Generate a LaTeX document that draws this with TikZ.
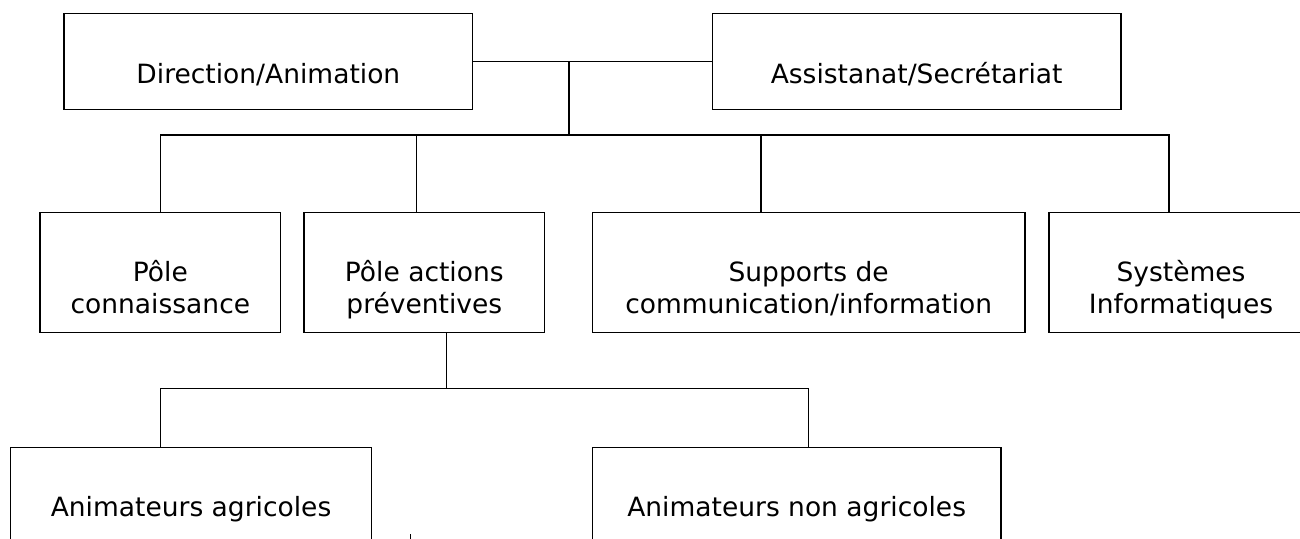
\documentclass[tikz,border=0pt]{standalone}
\usepackage{fontspec}
\setmainfont{DejaVu Sans}
\begin{document}
\begin{tikzpicture}[x=1pt,y=-1pt,
  box/.style={draw, line width=1.5pt, inner sep=0pt, minimum height=#1},
  box/.default=96pt,
  lab/.style={anchor=base, align=center, inner sep=0pt, font=\fontsize{26.5}{31.6}\selectfont},
  conn/.style={line width=1.5pt}]
\useasboundingbox (0,0) rectangle (1300,538);
% top level
\node[box, minimum width=408.7pt] (dir) at (268.35,61.3) {};
\node[box, minimum width=408.7pt] (ass) at (916.65,61.3) {};
% second level
\node[box=120.4pt, minimum width=240.7pt] (pc) at (160.35,272.5) {};
\node[box=120.4pt, minimum width=240.6pt] (pa) at (424.3,272.5) {};
\node[box=120.4pt, minimum width=432.7pt] (sup) at (808.65,272.5) {};
\node[box=120.4pt, minimum width=264pt] (sys) at (1181,272.5) {};
% third level
\node[box, minimum width=360.7pt] (aa) at (191.05,495.3) {};
\node[box, minimum width=408.5pt] (ana) at (796.65,495.3) {};
% labels
\node[lab] (dirT) at (268.35,83.3) {Direction/Animation};
\node[lab] (assT) at (916.65,83.3) {Assistanat/Secrétariat};
\node[lab] (pcT) at (160.35,313.3) {Pôle\\connaissance};
\node[lab] (paT) at (424.3,313.3) {Pôle actions\\préventives};
\node[lab] (supT) at (808.65,313.3) {Supports de\\communication/information};
\node[lab] (sysT) at (1181,313.3) {Systèmes\\Informatiques};
\node[lab] (aaT) at (191.05,516.7) {Animateurs agricoles};
\node[lab] (anaT) at (796.65,516.7) {Animateurs non agricoles};
% connectors
\coordinate (j1) at (569,0 |- dir.east);
\coordinate (b1) at (569,135);
\draw[conn] (dir.east) -- (ass.west);
\draw[conn] (j1) -- (b1);
\draw[conn] (pc.north) -- (pc.north |- b1) -- (1168.8,135) -- (1168.8,0 |- sys.north);
\draw[conn] (416.7,135) -- (416.7,0 |- pa.north);
\draw[conn] (761,135) -- (761,0 |- sup.north);
\coordinate (p2) at (446.7,0 |- pa.south);
\coordinate (b2) at (446.7,388.3);
\draw[conn] (p2) -- (b2);
\draw[conn] (160.7,0 |- aa.north) -- (160.7,388.3) -- (808.5,388.3) -- (808.5,0 |- ana.north);
% small stray mark
\coordinate (m1) at (410,534);
\coordinate (m2) at (410,540);
\draw[line width=1pt] (m1) -- (m2);
\end{tikzpicture}
\end{document}
